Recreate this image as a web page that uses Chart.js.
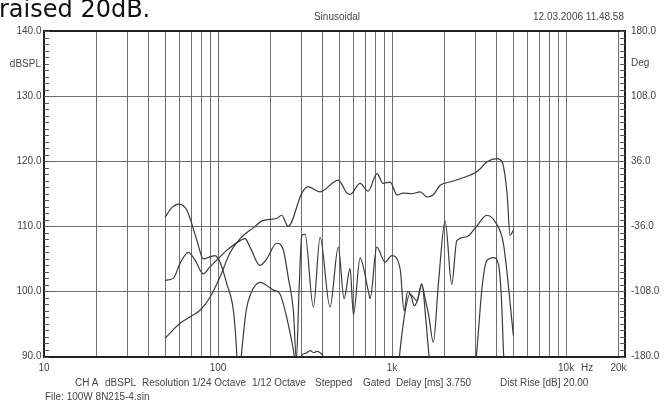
<!DOCTYPE html>
<html>
<head>
<meta charset="utf-8">
<script src="https://cdn.jsdelivr.net/npm/chart.js@4.4.1/dist/chart.umd.min.js"></script>
<style>
  html, body { margin: 0; padding: 0; background: #fff; }
  #wrap { position: relative; width: 669px; height: 403px; overflow: hidden; background: #fff; }
  #c { position: absolute; left: 0; top: 0; }
  .t { position: absolute; font-family: "Liberation Sans", Arial, sans-serif; font-size: 10px; line-height: 10px; color: #444; white-space: pre; }
  .big { position: absolute; font-family: "DejaVu Sans", Verdana, sans-serif; font-size: 24px; line-height: 24px; color: #111; white-space: pre; }
</style>
</head>
<body>
<div id="wrap">
  <canvas id="c" width="669" height="403"></canvas>
  <div class="big" style="left:-1px; top:-3px;">raised 20dB.</div>
  <div class="t" style="left:237px; width:200px; text-align:center; top:12px;">Sinusoidal</div>
  <div class="t" style="right:45px; top:12px;">12.03.2006 11.48.58</div>
  <div class="t" style="right:628px; top:59px;">dBSPL</div>
  <div class="t" style="left:631px; top:58px;">Deg</div>
  <div class="t" style="left:581px; top:363px;">Hz</div>
  <div class="t" style="left:75px; top:378px;">CH A</div>
  <div class="t" style="left:105px; top:378px;">dBSPL</div>
  <div class="t" style="left:142px; top:378px;">Resolution 1/24 Octave</div>
  <div class="t" style="left:252px; top:378px;">1/12 Octave</div>
  <div class="t" style="left:315px; top:378px;">Stepped</div>
  <div class="t" style="left:363px; top:378px;">Gated</div>
  <div class="t" style="left:396px; top:378px;">Delay [ms] 3.750</div>
  <div class="t" style="left:500px; top:378px;">Dist Rise [dB] 20.00</div>
  <div class="t" style="left:45px; top:392px;">File: 100W 8N215-4.sin</div>
</div>
<script>
// ---- Data ----
// Frequency response (SPL)
const splFreq = [49.6, 60.5, 70, 78.8, 90, 102.6, 117, 134, 160, 182, 217, 232, 253, 303, 329, 386, 490, 551, 574, 655, 728, 820, 888, 975, 1069, 1157, 1300, 1449, 1589, 1721, 1888, 2155, 2460, 3081, 3517, 4011, 4287, 4581, 4765, 4980];
const splDb   = [92.8, 95.1, 96.2, 97.1, 99.1, 102.2, 105.9, 108.1, 109.8, 110.9, 111.2, 111.7, 110.0, 115.1, 116.1, 115.3, 117.1, 115.1, 114.9, 116.6, 115.4, 118.1, 116.6, 116.8, 114.8, 115.1, 115.0, 115.3, 114.5, 114.8, 116.3, 116.8, 117.3, 118.4, 119.9, 120.4, 119.9, 115.0, 108.6, 109.4];

// 2nd harmonic distortion (raised 20 dB)
const h2Freq = [49.6, 55.3, 60.5, 67.5, 73.8, 82.3, 90, 98.3, 112.2, 134, 143, 152.7, 174, 190.5, 217, 237, 253, 271, 282, 292, 303, 316, 353, 386, 440, 491, 530, 574, 600, 655, 731, 748, 817, 912, 996, 1112, 1172, 1230, 1290, 1340, 1400, 1480, 1560, 1620, 1727, 1845, 2018, 2203, 2355, 2688, 3041, 3501, 3908, 4365, 4980];
const h2Db   = [101.7, 102.0, 104.3, 106.0, 104.8, 102.7, 103.8, 104.8, 106.3, 107.8, 108.1, 106.8, 104.0, 105.0, 107.4, 106.4, 102.2, 97.0, 89.5, 100.0, 108.6, 108.8, 97.6, 108.3, 97.6, 106.8, 98.9, 103.5, 96.4, 105.1, 100.0, 98.9, 106.8, 104.5, 105.5, 103.5, 97.0, 100.0, 99.2, 97.8, 98.6, 101.0, 98.5, 96.5, 92.2, 101.1, 110.8, 101.1, 107.8, 108.4, 109.9, 111.7, 110.7, 107.3, 93.2];

// 3rd harmonic distortion (raised 20 dB)
const h3Freq = [49.6, 54, 59.2, 66.1, 75.5, 82.3, 90, 96.1, 102.6, 112.2, 122.5, 126.8, 131, 137, 145, 155, 174, 208, 227, 248, 271, 285, 303, 320, 338, 355, 370, 385, 402, 425, 600, 1050, 1112, 1190, 1268, 1386, 1483, 1560, 1619, 1690, 2900, 3069, 3300, 3500, 3820, 4083, 4250, 4365, 4450];
const h3Db   = [111.4, 112.8, 113.4, 112.5, 107.9, 105.0, 105.3, 105.5, 104.5, 101.2, 97.1, 92.5, 86.0, 91.0, 97.0, 99.8, 101.4, 100.2, 99.6, 96.0, 91.0, 87.5, 90.2, 90.5, 90.9, 90.6, 90.8, 90.6, 90.0, 87.0, 80.0, 84.0, 91.0, 97.0, 99.6, 98.6, 101.2, 96.0, 91.0, 86.0, 85.0, 90.9, 101.0, 104.7, 105.2, 104.2, 99.0, 90.9, 86.0];

// Axis ticks
const xTickValues = [10,20,30,40,50,60,70,80,90,100,200,300,400,500,600,700,800,900,1000,2000,3000,4000,5000,6000,7000,8000,9000,10000,20000];
const xTickLabels = {10: '10', 100: '100', 1000: '1k', 10000: '10k', 20000: '20k'};
const dbTicks = [90, 100, 110, 120, 130, 140];
const degTicks = [-180, -108, -36, 36, 108, 180];

const toPts = (fs, vs) => fs.map((f, i) => ({x: f, y: vs[i]}));

const curveStyle = {
  borderColor: '#3a3a3a',
  borderWidth: 1.2,
  pointRadius: 0,
  fill: false,
  cubicInterpolationMode: 'monotone',
  yAxisID: 'y'
};

const minorTicks = {
  id: 'minorTicks',
  afterDraw(chart) {
    const {ctx, chartArea: ca, scales} = chart;
    ctx.save();
    ctx.strokeStyle = '#555';
    ctx.lineWidth = 1;
    ctx.beginPath();
    for (let v = 90; v <= 140; v++) {
      const py = Math.round(scales.y.getPixelForValue(v)) + 0.5;
      ctx.moveTo(ca.left, py); ctx.lineTo(ca.left + 5, py);
    }
    for (let k = 0; k <= 50; k++) {
      const py = Math.round(scales.y2.getPixelForValue(-180 + 7.2 * k)) + 0.5;
      ctx.moveTo(ca.right - 5, py); ctx.lineTo(ca.right, py);
    }
    ctx.stroke();
    ctx.restore();
  }
};

const tickFont = {family: '"Liberation Sans", Arial, sans-serif', size: 10};

new Chart(document.getElementById('c'), {
  type: 'line',
  data: {
    datasets: [
      Object.assign({label: 'SPL', data: toPts(splFreq, splDb)}, curveStyle),
      Object.assign({label: '2nd harmonic', data: toPts(h2Freq, h2Db)}, curveStyle),
      Object.assign({label: '3rd harmonic', data: toPts(h3Freq, h3Db)}, curveStyle)
    ]
  },
  options: {
    responsive: false,
    animation: false,
    events: [],
    layout: {padding: {top: 31, left: 0, right: 0, bottom: 0}},
    plugins: {legend: {display: false}, tooltip: {enabled: false}, title: {display: false}},
    scales: {
      x: {
        type: 'logarithmic',
        position: 'bottom',
        min: 10,
        max: 21800,
        afterBuildTicks: (scale) => { scale.ticks = xTickValues.map(v => ({value: v})); },
        afterFit: (scale) => { scale.height = 46.5; },
        ticks: {
          autoSkip: false, maxRotation: 0, minRotation: 0,
          padding: 6, color: '#444', font: tickFont,
          callback: (v) => xTickLabels[v] || ''
        },
        grid: {color: '#6e6e6e', lineWidth: 1, drawTicks: false},
        border: {display: true, color: '#222', width: 2}
      },
      y: {
        type: 'linear',
        position: 'left',
        min: 90, max: 140,
        afterBuildTicks: (scale) => { scale.ticks = dbTicks.map(v => ({value: v})); },
        afterFit: (scale) => { scale.width = 44; },
        ticks: {padding: 2.5, color: '#444', font: tickFont, callback: (v) => Number(v).toFixed(1)},
        grid: {
          drawTicks: false,
          color: (c) => (c.tick && (c.tick.value === 140 || c.tick.value === 90)) ? '#222' : '#6e6e6e',
          lineWidth: (c) => (c.tick && (c.tick.value === 140 || c.tick.value === 90)) ? 2 : 1
        },
        border: {display: true, color: '#222', width: 2}
      },
      y2: {
        type: 'linear',
        position: 'right',
        min: -180, max: 180,
        afterBuildTicks: (scale) => { scale.ticks = degTicks.map(v => ({value: v})); },
        afterFit: (scale) => { scale.width = 44; },
        ticks: {padding: 6, color: '#444', font: tickFont, callback: (v) => Number(v).toFixed(1)},
        grid: {drawOnChartArea: false, drawTicks: false},
        border: {display: true, color: '#222', width: 2}
      }
    }
  },
  plugins: [minorTicks]
});
</script>
</body>
</html>
